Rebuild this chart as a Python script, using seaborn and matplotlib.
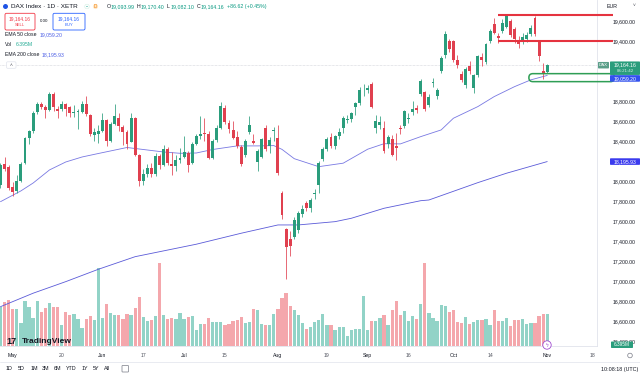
import numpy as np
import pandas as pd
import seaborn as sns
import matplotlib.pyplot as plt
from matplotlib.patches import FancyBboxPatch, Circle
from matplotlib.lines import Line2D
from matplotlib.transforms import IdentityTransform

sns.set_theme(style='white')
plt.rcParams['font.family'] = ['Liberation Sans', 'DejaVu Sans']

# DAX Index 1D XETR, daily bars 26 Apr - 1 Nov 2024
bar_dates = pd.bdate_range('2024-04-26', '2024-11-01').drop(pd.Timestamp('2024-05-01'))

opens = [17960, 18170, 18140, 17945, 17905, 18005, 18180, 18430, 18500, 18690,
         18770, 18740, 18715, 18875, 18720, 18720, 18770, 18740, 18680, 18690,
         18690, 18775, 18665, 18465, 18475,
         18503, 18610, 18405, 18575, 18630, 18546, 18496, 18396, 18630, 18263,
         18000, 18068, 18130, 18067, 18250, 18165, 18320, 18175, 18155, 18210,
         18245, 18285, 18180, 18375, 18450, 18480, 18475, 18236, 18410, 18535,
         18730, 18580, 18515, 18440, 18340, 18265, 18490, 18400, 18195, 18245,
         18530, 18355, 18500,
         18430, 17880, 17520, 17420, 17440, 17510, 17670, 17780, 17730, 17870,
         17960, 18220, 18320, 18440, 18350, 18450, 18530, 18610, 18620, 18740,
         18780, 18900,
         18910, 18970, 18530, 18560, 18530, 18375, 18420, 18350, 18535, 18553,
         18620, 18690, 18735, 18870, 18890, 18765, 18985, 18850, 19100, 19260,
         19400,
         19400, 19215, 19070, 18965, 19150, 18935, 19065, 19240, 19195, 19400,
         19570, 19455, 19500, 19545, 19600, 19520, 19415, 19405, 19420, 19470,
         19630, 19400, 19100, 19093.99]
highs = [18180, 18240, 18160, 17990, 18060, 18190, 18440, 18510, 18700, 18790,
         18790, 18760, 18890, 18890, 18750, 18800, 18780, 18750, 18760, 18720,
         18800, 18850, 18670, 18530, 18560,
         18680, 18620, 18590, 18770, 18680, 18560, 18510, 18680, 18640, 18270,
         18120, 18170, 18180, 18280, 18270, 18360, 18340, 18290, 18260, 18330,
         18450, 18300, 18390, 18470, 18650, 18630, 18500, 18420, 18560, 18790,
         18760, 18610, 18600, 18500, 18360, 18420, 18650, 18470, 18320, 18430,
         18560, 18440, 18540,
         18560, 17900, 17530, 17500, 17640, 17700, 17760, 17800, 17830, 17920,
         18200, 18340, 18440, 18480, 18460, 18530, 18650, 18660, 18690, 18790,
         18940, 18970,
         18960, 18990, 18660, 18650, 18600, 18460, 18460, 18480, 18560, 18710,
         18680, 18800, 18760, 19020, 18900, 18870, 19030, 18930, 19250, 19500,
         19420,
         19410, 19260, 19100, 19140, 19200, 19070, 19260, 19280, 19380, 19520,
         19630, 19480, 19620, 19675, 19620, 19540, 19450, 19480, 19490, 19560,
         19650, 19410, 19180, 19170.40]
lows = [17930, 18100, 17910, 17850, 17880, 17990, 18170, 18370, 18480, 18670,
        18720, 18630, 18700, 18700, 18630, 18700, 18650, 18640, 18640, 18520,
        18680, 18650, 18450, 18400, 18380,
        18490, 18350, 18390, 18560, 18500, 18360, 18320, 18390, 18250, 17950,
        17960, 18040, 18040, 18050, 18120, 18150, 18160, 18060, 18100, 18180,
        18230, 18090, 18170, 18360, 18420, 18400, 18220, 18220, 18390, 18520,
        18570, 18480, 18420, 18330, 18150, 18240, 18470, 18370, 18100, 18230,
        18300, 18280, 18400,
        18060, 17620, 17024, 17250, 17420, 17480, 17640, 17700, 17690, 17820,
        17880, 18200, 18300, 18330, 18320, 18420, 18480, 18580, 18590, 18660,
        18760, 18850,
        18880, 18730, 18480, 18520, 18280, 18330, 18250, 18210, 18470, 18530,
        18580, 18660, 18680, 18850, 18700, 18740, 18940, 18820, 19080, 19230,
        19290,
        19190, 19130, 18990, 18930, 19070, 18880, 19040, 19150, 19170, 19380,
        19470, 19380, 19480, 19530, 19440, 19380, 19330, 19370, 19390, 19450,
        19450, 19200, 19020, 19082.10]
closes = [18161, 18118, 17932, 17896, 18001, 18175, 18430, 18498, 18686, 18773,
          18742, 18716, 18869, 18738, 18704, 18768, 18726, 18680, 18691, 18693,
          18774, 18677, 18473, 18496, 18498,
          18608, 18406, 18575, 18652, 18557, 18494, 18369, 18630, 18265, 18002,
          18068, 18131, 18067, 18254, 18164, 18325, 18177, 18155, 18211, 18235,
          18290, 18164, 18374, 18450, 18475, 18472, 18236, 18407, 18534, 18748,
          18590, 18518, 18437, 18354, 18171, 18407, 18558, 18387, 18299, 18418,
          18320, 18411, 18508,
          18083, 17661, 17339, 17354, 17615, 17680, 17723, 17726, 17812, 17885,
          18183, 18322, 18421, 18357, 18448, 18493, 18633, 18617, 18681, 18782,
          18912, 18906,
          18930, 18747, 18600, 18590, 18302, 18443, 18266, 18336, 18518, 18699,
          18633, 18726, 18711, 19002, 18720, 18847, 18997, 18918, 19238, 19474,
          19325,
          19213, 19165, 19015, 19121, 19104, 19066, 19254, 19210, 19373, 19508,
          19486, 19432, 19583, 19657, 19461, 19421, 19377, 19443, 19464, 19531,
          19479, 19257, 19078, 19164.16]
# volume, millions
volumes = [7.9, 8.9, 9.3, 7.4, 7.4, 4.6, 9.1, 7.9, 5.6, 9.0,
           6.9, 7.6, 8.6, 7.9, 7.9, 4.2, 6.9, 6.2, 6.4, 5.4,
           3.6, 5.4, 6.0, 5.2, 15.6,
           5.6, 8.4, 6.6, 6.2, 6.2, 5.4, 6.4, 6.2, 7.6, 9.8,
           5.9, 5.1, 5.2, 6.0, 16.7, 6.2, 5.4, 5.6, 5.4, 6.6,
           5.4, 5.9, 6.0, 3.2, 4.4, 4.4, 5.7, 4.9, 4.9, 4.9,
           4.2, 4.5, 5.0, 5.3, 5.9, 4.7, 4.9, 7.5, 7.2, 4.5,
           4.2, 4.2, 6.4,
           7.5, 9.7, 10.7, 8.0, 7.3, 6.2, 4.7, 3.5, 3.9, 4.9,
           5.3, 6.5, 4.2, 4.2, 3.2, 3.9, 3.9, 2.0, 3.2, 3.5,
           3.5, 10.0,
           3.3, 5.1, 5.1, 5.7, 6.2, 4.2, 7.2, 9.1, 6.2, 7.1,
           5.1, 6.0, 5.5, 8.4, 16.7, 6.7, 5.7, 5.1, 8.2, 8.0,
           6.9,
           7.2, 4.9, 4.7, 5.9, 4.5, 4.9, 5.3, 5.2, 5.5, 4.2,
           7.2, 5.1, 5.1, 5.7, 4.0, 5.3, 5.2, 5.5, 4.5, 4.7,
           4.7, 6.0, 6.4, 6.395]

ema50_dates = ['2024-04-26', '2024-05-06', '2024-05-09', '2024-05-15', '2024-05-21',
               '2024-05-27', '2024-05-31', '2024-06-11', '2024-06-18', '2024-06-24',
               '2024-06-28', '2024-07-04', '2024-07-10', '2024-07-18', '2024-07-25',
               '2024-07-31', '2024-08-02', '2024-08-07', '2024-08-15', '2024-08-23',
               '2024-09-02', '2024-09-06', '2024-09-12', '2024-09-19', '2024-09-26',
               '2024-10-01', '2024-10-09', '2024-10-15', '2024-10-22', '2024-10-28',
               '2024-11-01']
ema50_vals = [17794, 17902, 17981, 18112, 18192, 18242, 18277, 18337, 18312, 18292,
              18279, 18282, 18317, 18353, 18353, 18356, 18318, 18225, 18145, 18180,
              18320, 18375, 18373, 18446, 18513, 18630, 18747, 18847, 18947, 19015,
              19059.20]
ema200_dates = ['2024-04-26', '2024-05-09', '2024-05-21', '2024-05-31', '2024-06-13',
                '2024-07-04', '2024-07-19', '2024-08-01', '2024-08-08', '2024-08-21',
                '2024-08-27', '2024-09-06', '2024-09-19', '2024-09-23', '2024-10-09',
                '2024-10-18', '2024-11-01']
ema200_vals = [16742, 16877, 16993, 17117, 17243, 17368, 17478, 17561, 17561, 17594,
               17628, 17728, 17804, 17811, 17985, 18079, 18195.93]

# levels drawn by hand on the chart
resistance = [19665, 19405]
resistance_from = ['2024-10-16', '2024-10-16']
support_zone = [18997, 19077]
support_from = '2024-10-28'

time_ticks = ['2024-05-02', '2024-05-20', '2024-06-03', '2024-06-17', '2024-07-01',
              '2024-07-15', '2024-08-01', '2024-08-19', '2024-09-02', '2024-09-16',
              '2024-10-01', '2024-10-14', '2024-11-01', '2024-11-18']
time_labels = ['May', '20', 'Jun', '17', 'Jul', '15', 'Aug', '19', 'Sep', '16',
               'Oct', '14', 'Nov', '18']
# 19,000 and 19,200 sit under the price tags
price_ticks = [p for p in range(16400, 19601, 200) if p not in (19000, 19200)]

# ---------------------------------------------------------------------------
W, H = 640, 376
PLOT_R, PLOT_B = 597, 346
UP, DN = '#2a9d7c', '#e0404f'
VUP, VDN = '#92d3c7', '#f4a7ac'
TXT = '#131722'

axis_days = pd.bdate_range('2024-04-26', '2024-11-29').drop(pd.Timestamp('2024-05-01'))


def pos(d):
    if isinstance(d, str):
        return axis_days.get_loc(pd.Timestamp(d))
    return axis_days.get_indexer(pd.to_datetime(d))


fig = plt.figure(figsize=(W / 100, H / 100), dpi=100)
fig.patch.set_facecolor('white')
rect = [0, 1 - PLOT_B / H, PLOT_R / W, PLOT_B / H]
ax_vol = fig.add_axes(rect, zorder=0)
ax = fig.add_axes(rect, zorder=1)
ax.patch.set_visible(False)

XLIM = (-0.12, 146.2)
YLIM = (16348, 19815)

idx = np.arange(len(closes))
o, h, l, c = map(np.array, (opens, highs, lows, closes))
up = c >= o

ax_vol.bar(idx, volumes, width=0.8, color=np.where(up, VUP, VDN), linewidth=0)
ax_vol.set_xlim(XLIM)
ax_vol.set_ylim(0, PLOT_B / 5)
ax_vol.axis('off')

cols = np.where(up, UP, DN)
ax.vlines(idx, l, h, colors=cols, linewidth=0.55, zorder=3)
ax.bar(idx, np.maximum(np.abs(c - o), 8), bottom=np.minimum(o, c), width=0.72,
       color=cols, linewidth=0, zorder=4)

sns.lineplot(x=pos(ema50_dates), y=ema50_vals, ax=ax, color='#7878e2', linewidth=0.6, zorder=2)
sns.lineplot(x=pos(ema200_dates), y=ema200_vals, ax=ax, color='#5a5ad8', linewidth=0.6, zorder=2)

ax.axhline(closes[-1], color='#c3c5cc', lw=0.45, ls=(0, (1, 1.2)), zorder=1)
ax.hlines(resistance, [pos(d) for d in resistance_from], 150, colors='#e5333f', lw=1.5,
          zorder=5, clip_on=False)

ax.set_xlim(XLIM)
ax.set_ylim(YLIM)
ax.set_xticks(pos(time_ticks))
ax.set_xticklabels(time_labels)
ax.set_yticks(price_ticks)
ax.set_yticklabels([f'{v:,.2f}' for v in price_ticks])
ax.yaxis.tick_right()
ax.tick_params(axis='y', length=0, pad=11, labelsize=3.7, labelcolor=TXT)
ax.tick_params(axis='x', length=0, pad=5, labelsize=3.7, labelcolor='#50535e')
for t in ax.get_xticklabels():
    if not t.get_text().isdigit():
        t.set_color(TXT)
ax.set_xlabel('')
ax.set_ylabel('')
for s in ['top', 'left']:
    ax.spines[s].set_visible(False)
for s in ['right', 'bottom']:
    ax.spines[s].set_color('#e0e3eb')
    ax.spines[s].set_linewidth(0.6)


def img_y(price):
    return H - ax.transData.transform((0, price))[1]


def T(x, y, s, **kw):
    kw.setdefault('va', 'center')
    kw.setdefault('zorder', 12)
    fig.text(x / W, 1 - y / H, s, **kw)


def box(x0, y0, x1, y1, fc='white', ec='none', lw=0.6, r=1.0, z=10):
    fig.add_artist(FancyBboxPatch((x0, H - y1), x1 - x0, y1 - y0,
                                  boxstyle=f'round,pad=0,rounding_size={r}', fc=fc, ec=ec,
                                  lw=lw, transform=IdentityTransform(), zorder=z))


def dot(x, y, r, **kw):
    kw.setdefault('zorder', 11)
    fig.add_artist(Circle((x, H - y), r, transform=IdentityTransform(), **kw))


# support pill
x0, y0 = ax.transData.transform((pos(support_from) - 0.5, support_zone[0]))
x1, y1 = ax.transData.transform((150.5, support_zone[1]))
fig.add_artist(FancyBboxPatch((x0, y0), x1 - x0, y1 - y0, boxstyle='round,pad=0,rounding_size=4',
                              fill=False, ec='#2f9e55', lw=1.1, transform=IdentityTransform(), zorder=6))

# price scale tags
yp = img_y(closes[-1])
box(598, yp - 3, 609, yp + 3.5, fc='#5a9e88', r=0.8)
T(603.5, yp + 0.2, 'DAX', ha='center', fontsize=3.2, color='white')
box(610, yp - 3.5, 640, yp + 10, fc=UP, r=0.8)
T(625, yp, f'{closes[-1]:,.2f}', ha='center', fontsize=3.7, color='white')
T(625, yp + 6.3, '06:21:42', ha='center', fontsize=3.2, color='#d6f1e8')
ye = img_y(ema50_vals[-1]) + 3
box(610, ye - 3.3, 640, ye + 3.3, fc='#3251ee', r=0.8)
T(625, ye, f'{ema50_vals[-1]:,.2f}', ha='center', fontsize=3.7, color='white')
ye2 = img_y(ema200_vals[-1])
box(610, ye2 - 3.3, 640, ye2 + 3.3, fc='#3b3bee', r=0.8)
T(625, ye2, f'{ema200_vals[-1]:,.2f}', ha='center', fontsize=3.7, color='white')
box(611, 341.5, 633, 348, fc=UP, r=0.8)
T(622, 344.8, f'{volumes[-1]:.3f}M', ha='center', fontsize=3.4, color='white')
T(607, 6, 'EUR', fontsize=3.8, color=TXT)
T(633, 6, '˅', fontsize=3.5, color='#50535e')

# header
dot(5.5, 6.5, 3.2, fc='#1e53e5')
T(11, 6.5, 'DAX Index · 1D · XETR', fontsize=4.6, color=TXT)
dot(87, 6.5, 3.3, fc='#d5f0e4')
dot(87, 6.5, 1.3, fc='#22ab94', zorder=12)
dot(95.5, 6.5, 3.3, fc='#fde7c8')
T(95.5, 6.6, 'D', ha='center', fontsize=3.3, color='#f57c00')
for xg, letter, val in [(107, 'O', opens[-1]), (137, 'H', highs[-1]),
                        (167, 'L', lows[-1]), (197, 'C', closes[-1])]:
    T(xg, 6.5, letter, fontsize=3.8, color=TXT)
    T(xg + 3.6, 6.5, f'{val:,.2f}', fontsize=3.8, color='#089981')
T(227, 6.5, '+86.62 (+0.45%)', fontsize=3.8, color='#089981')

box(5, 13.3, 35, 30, fc='white', ec='#f23645', lw=0.6, r=1.5)
T(20, 18.5, f'{closes[-1]:,.2f}', ha='center', fontsize=3.5, color='#f23645')
T(20, 24.5, 'SELL', ha='center', fontsize=3.0, color='#f23645')
T(44, 21, '0.00', ha='center', fontsize=3.2, color=TXT)
box(53, 13.3, 85, 30, fc='white', ec='#2962ff', lw=0.6, r=1.5)
T(69, 18.5, f'{closes[-1]:,.2f}', ha='center', fontsize=3.5, color='#2962ff')
T(69, 24.5, 'BUY', ha='center', fontsize=3.0, color='#2962ff')

T(5, 34.5, 'EMA 50 close', fontsize=3.7, color=TXT)
T(40, 34.5, f'{ema50_vals[-1]:,.2f}', fontsize=3.7, color='#4c5fe6')
T(5, 44.5, 'Vol', fontsize=3.7, color=TXT)
T(16, 44.5, f'{volumes[-1]:.3f}M', fontsize=3.7, color='#22ab94')
T(5, 54.5, 'EMA 200 close', fontsize=3.7, color=TXT)
T(42, 54.5, f'{ema200_vals[-1]:,.2f}', fontsize=3.7, color='#4c5fe6')

box(6.5, 61.8, 16, 68.3, fc='white', ec='#e0e3eb', lw=0.5, r=1.2)
T(11.2, 65.5, '˄', ha='center', fontsize=3.5, color='#50535e')

# logo and event marker
T(6, 341.5, '17', fontsize=6.6, fontweight='bold', color=TXT)
T(22, 341.5, 'TradingView', fontsize=6.0, fontweight='bold', color=TXT)
dot(547, 345, 4.2, fc='white', ec='#a14bd0', lw=0.6)
T(547, 345.2, 'ϟ', ha='center', fontsize=3.6, color='#a14bd0')

# bottom bar
dot(630, 355.5, 2.3, fc='none', ec='#787b86', lw=0.5)
fig.add_artist(Line2D([0, 1], [1 - 361.5 / H] * 2, transform=fig.transFigure,
                      color='#e0e3eb', lw=0.5))
for xb, lab in zip([9.5, 21.5, 34, 46, 58, 71.5, 84.5, 96, 107.5],
                   ['1D', '5D', '1M', '3M', '6M', 'YTD', '1Y', '5Y', 'All']):
    T(xb, 369, lab, ha='center', fontsize=3.9, color=TXT)
box(122, 365.5, 128.5, 372, fc='white', ec='#787b86', lw=0.5, r=0.6)
T(638, 369, '10:08:18 (UTC)', ha='right', fontsize=3.9, color=TXT)

fig.savefig('out.png', dpi=100, facecolor='white')
